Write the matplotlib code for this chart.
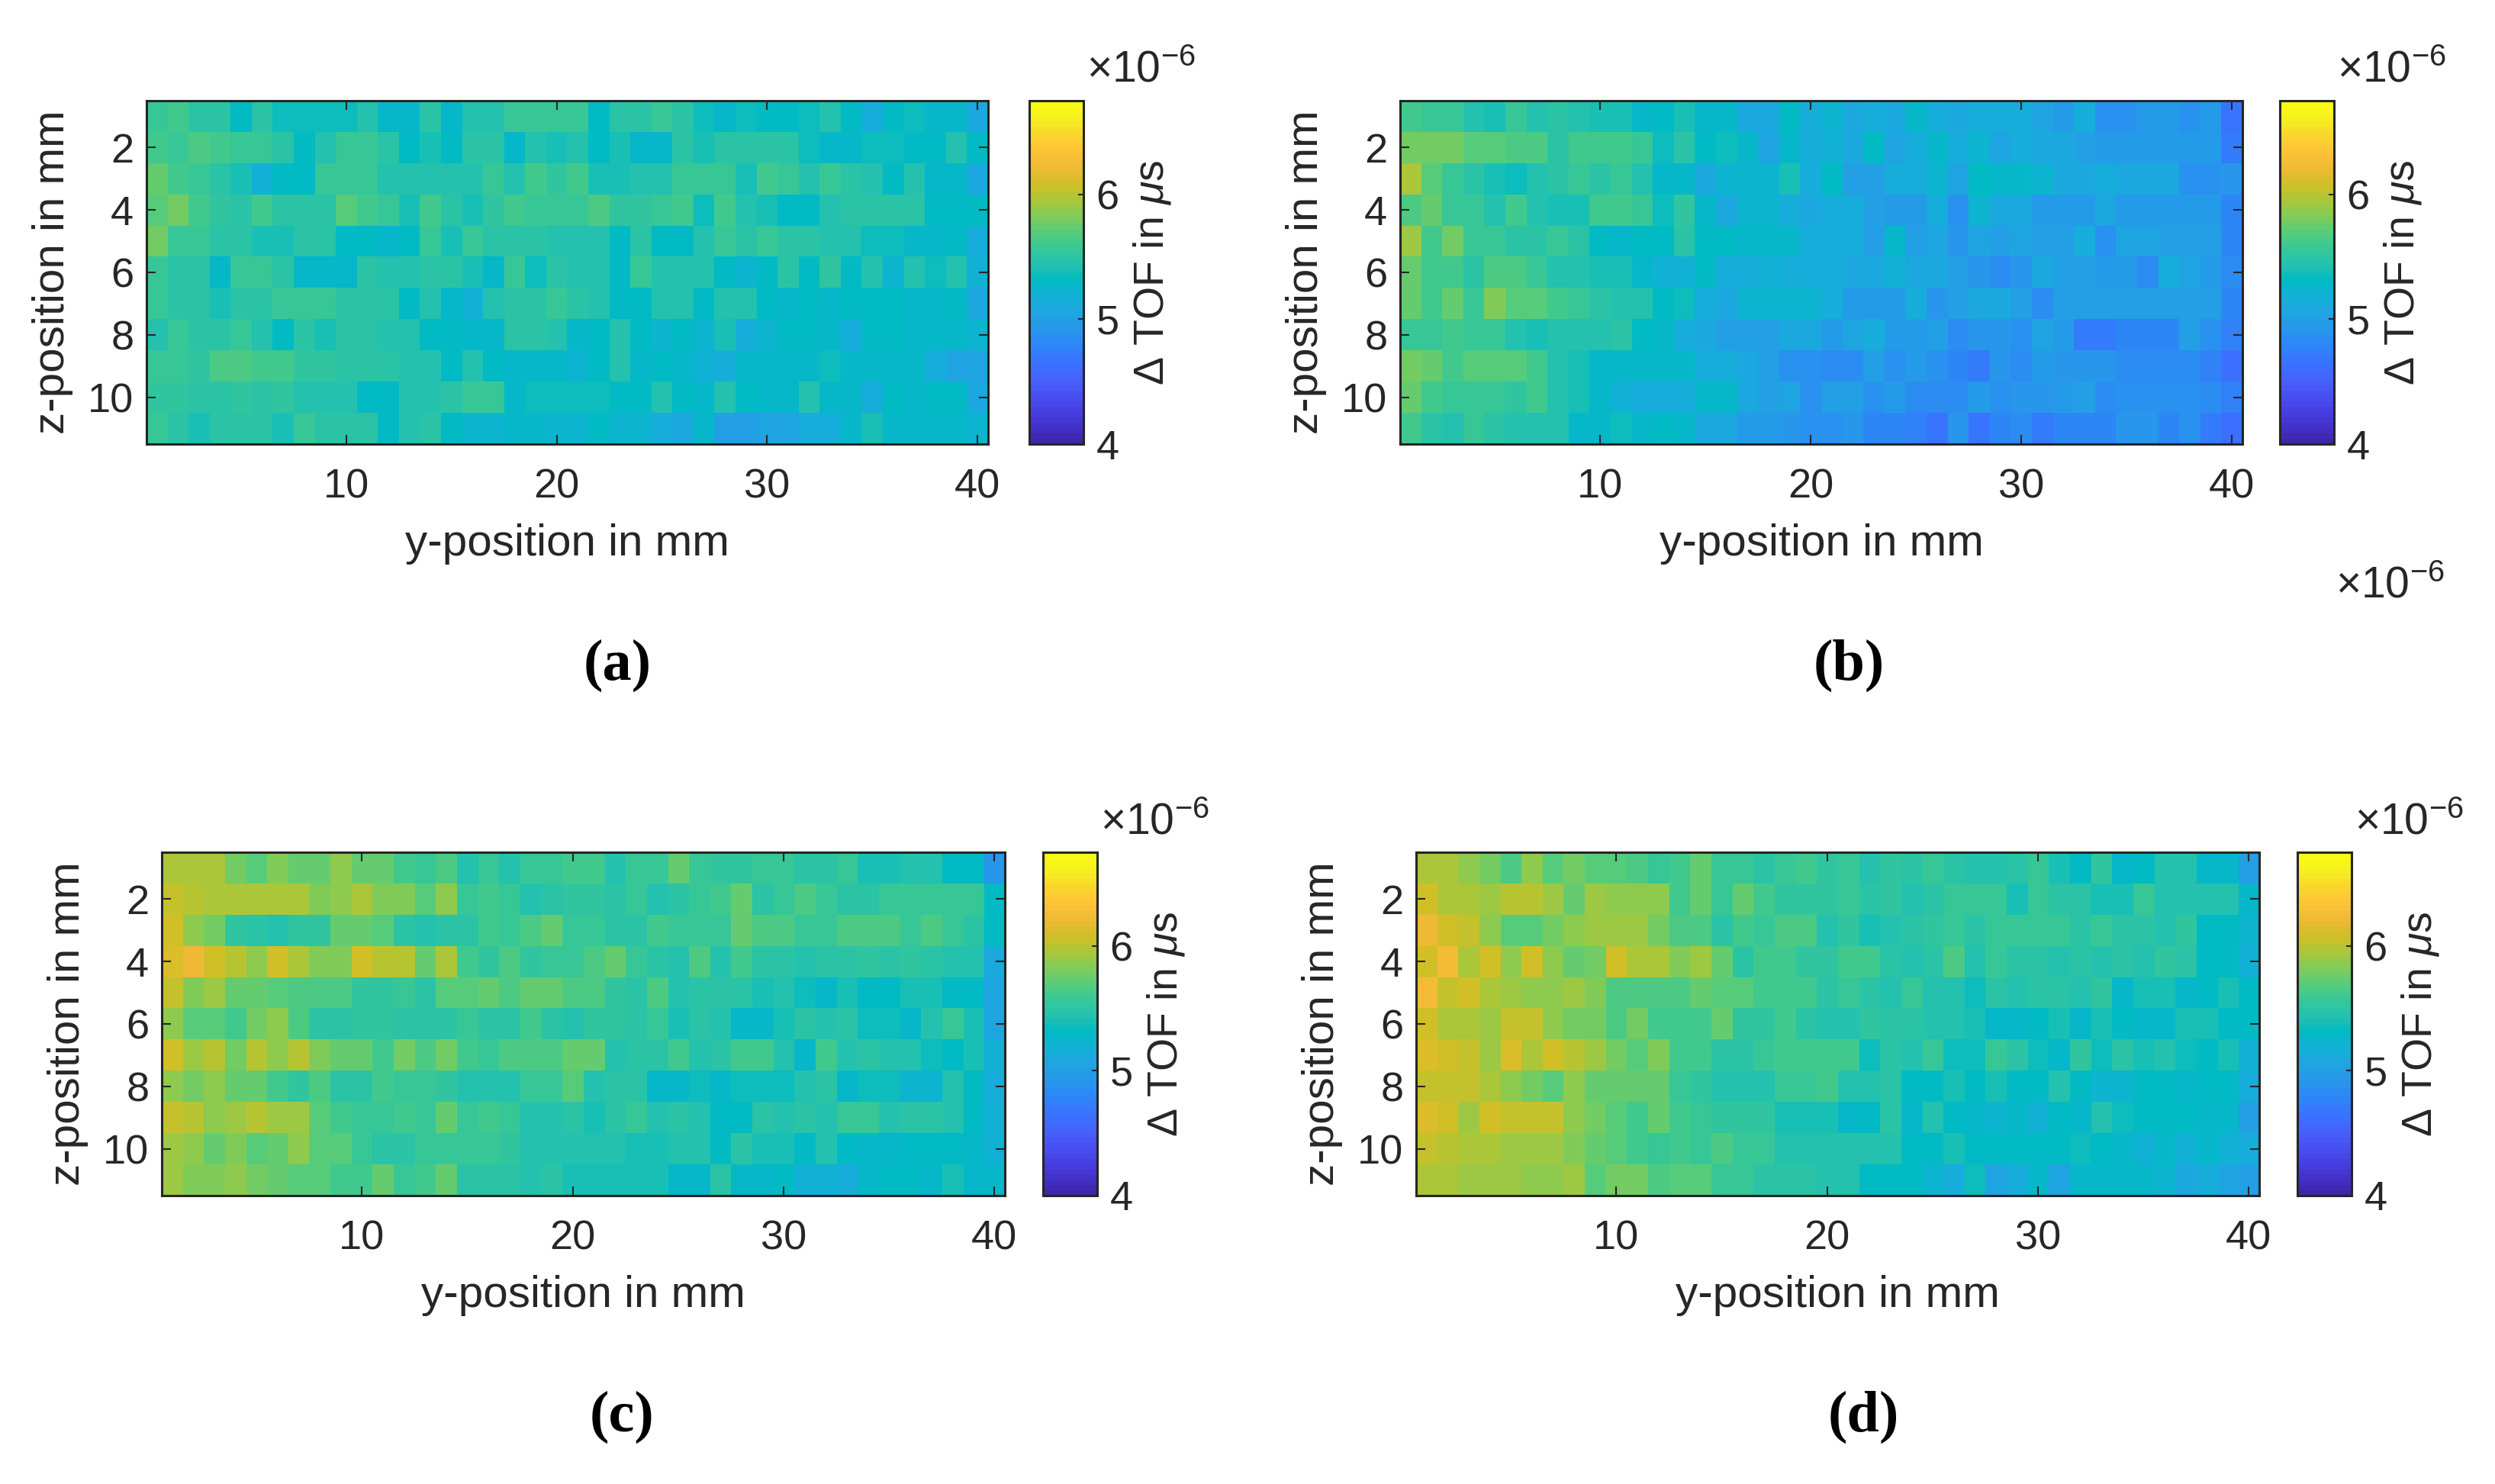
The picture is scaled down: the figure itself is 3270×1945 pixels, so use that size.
import numpy as np
import matplotlib
matplotlib.use('Agg')
import matplotlib.pyplot as plt
from matplotlib.colors import LinearSegmentedColormap

plt.rcParams['font.family'] = ['Liberation Sans', 'DejaVu Sans']
plt.rcParams['mathtext.fontset'] = 'custom'
plt.rcParams['mathtext.rm'] = 'Liberation Sans'
plt.rcParams['mathtext.it'] = 'Liberation Sans:italic'
plt.rcParams['mathtext.bf'] = 'Liberation Sans:bold'

# parula, every few entries of the 64 colour table
parula = [
    (0.2422, 0.1504, 0.6603), (0.2647, 0.1978, 0.7952), (0.2783, 0.2559, 0.8991),
    (0.2810, 0.3228, 0.9579), (0.2699, 0.3892, 0.9906), (0.2206, 0.4603, 0.9973),
    (0.1786, 0.5289, 0.9682), (0.1540, 0.5902, 0.9218), (0.1248, 0.6459, 0.8883),
    (0.0689, 0.6948, 0.8394), (0.0067, 0.7312, 0.7660), (0.1408, 0.7584, 0.6842),
    (0.2161, 0.7843, 0.5923), (0.3406, 0.8008, 0.4789), (0.5044, 0.7993, 0.3480),
    (0.6720, 0.7793, 0.2227), (0.8203, 0.7498, 0.1535), (0.9393, 0.7288, 0.2100),
    (0.9970, 0.7659, 0.2199), (0.9786, 0.8394, 0.1728), (0.9628, 0.9373, 0.1265),
    (0.9769, 0.9839, 0.0805),
]

# delta TOF in 1e-6 us, 11 rows (z) by 40 columns (y)
panel_a = [
    [5.55,5.60,5.50,5.50,5.30,5.50,5.35,5.35,5.35,5.35,
     5.42,5.25,5.25,5.50,5.27,5.42,5.42,5.55,5.55,5.55,
     5.55,5.32,5.47,5.47,5.58,5.50,5.35,5.28,5.35,5.33,
     5.30,5.35,5.42,5.30,5.15,5.30,5.35,5.25,5.25,5.10],
    [5.62,5.55,5.65,5.60,5.55,5.55,5.50,5.30,5.45,5.55,
     5.55,5.50,5.32,5.40,5.30,5.48,5.48,5.28,5.45,5.38,
     5.45,5.30,5.40,5.25,5.25,5.50,5.40,5.50,5.50,5.47,
     5.47,5.35,5.28,5.28,5.35,5.35,5.32,5.30,5.42,5.30],
    [5.72,5.62,5.58,5.48,5.40,5.18,5.32,5.32,5.55,5.55,
     5.55,5.42,5.42,5.42,5.42,5.45,5.55,5.43,5.62,5.52,
     5.60,5.40,5.40,5.45,5.45,5.55,5.55,5.55,5.40,5.62,
     5.55,5.45,5.55,5.50,5.45,5.32,5.45,5.27,5.27,5.10],
    [5.70,5.80,5.62,5.52,5.48,5.62,5.48,5.48,5.48,5.68,
     5.63,5.58,5.40,5.62,5.47,5.38,5.52,5.60,5.55,5.55,
     5.55,5.67,5.52,5.52,5.58,5.62,5.35,5.60,5.45,5.38,
     5.30,5.30,5.42,5.50,5.48,5.48,5.48,5.30,5.30,5.30],
    [5.78,5.55,5.55,5.47,5.47,5.38,5.38,5.48,5.48,5.30,
     5.30,5.27,5.32,5.55,5.38,5.55,5.48,5.48,5.48,5.43,
     5.43,5.43,5.33,5.47,5.30,5.30,5.42,5.55,5.47,5.58,
     5.48,5.48,5.42,5.42,5.35,5.35,5.28,5.28,5.33,5.12],
    [5.55,5.47,5.47,5.28,5.55,5.55,5.47,5.28,5.28,5.28,
     5.47,5.42,5.42,5.48,5.48,5.40,5.27,5.55,5.35,5.47,
     5.42,5.42,5.30,5.58,5.42,5.42,5.42,5.30,5.22,5.33,
     5.50,5.30,5.52,5.30,5.45,5.22,5.45,5.35,5.45,5.18],
    [5.55,5.47,5.47,5.38,5.48,5.48,5.55,5.55,5.55,5.48,
     5.48,5.48,5.30,5.42,5.25,5.20,5.42,5.50,5.50,5.58,
     5.50,5.42,5.30,5.30,5.42,5.42,5.33,5.42,5.42,5.33,
     5.28,5.32,5.28,5.32,5.30,5.33,5.28,5.28,5.33,5.10],
    [5.45,5.55,5.48,5.48,5.55,5.45,5.30,5.48,5.38,5.48,
     5.48,5.42,5.42,5.32,5.32,5.28,5.28,5.50,5.50,5.43,
     5.28,5.33,5.42,5.30,5.22,5.33,5.22,5.38,5.12,5.23,
     5.30,5.30,5.25,5.12,5.30,5.30,5.25,5.28,5.28,5.22],
    [5.58,5.58,5.52,5.65,5.65,5.60,5.60,5.52,5.52,5.47,
     5.47,5.47,5.42,5.42,5.30,5.43,5.32,5.28,5.28,5.28,
     5.22,5.30,5.42,5.28,5.33,5.28,5.20,5.13,5.25,5.28,
     5.28,5.28,5.35,5.28,5.25,5.28,5.28,5.13,5.05,5.05],
    [5.52,5.52,5.48,5.48,5.53,5.48,5.53,5.45,5.45,5.45,
     5.32,5.32,5.42,5.42,5.50,5.55,5.55,5.28,5.35,5.35,
     5.35,5.35,5.33,5.33,5.42,5.33,5.28,5.42,5.33,5.27,
     5.27,5.42,5.25,5.25,5.15,5.30,5.28,5.33,5.33,5.10],
    [5.55,5.47,5.38,5.48,5.48,5.48,5.38,5.55,5.48,5.48,
     5.48,5.32,5.42,5.50,5.30,5.22,5.22,5.27,5.27,5.22,
     5.22,5.33,5.22,5.22,5.13,5.08,5.25,5.00,5.00,5.07,
     5.07,5.15,5.15,5.25,5.38,5.25,5.25,5.25,5.25,5.22],
]

panel_b = [
    [5.62,5.58,5.55,5.45,5.38,5.55,5.42,5.50,5.42,5.38,
     5.38,5.27,5.33,5.38,5.25,5.25,5.10,5.10,5.32,5.15,
     5.22,5.10,5.15,5.08,5.25,5.15,5.10,5.15,5.15,5.15,
     5.05,4.95,5.15,4.90,4.90,4.95,4.95,4.90,4.98,4.68],
    [5.80,5.78,5.78,5.70,5.70,5.65,5.65,5.50,5.62,5.62,
     5.62,5.58,5.35,5.47,5.30,5.35,5.28,5.07,5.27,5.15,
     5.20,5.08,5.30,5.05,5.15,5.25,5.15,5.22,5.05,5.13,
     5.08,5.08,5.00,4.95,4.98,4.98,4.98,4.98,4.98,4.70],
    [5.95,5.70,5.58,5.48,5.40,5.37,5.42,5.50,5.57,5.50,
     5.58,5.43,5.28,5.28,5.10,5.22,5.22,5.22,5.38,5.12,
     5.30,5.03,5.03,5.12,5.12,5.22,5.05,5.30,5.25,5.25,
     5.22,5.08,5.08,5.12,5.08,5.08,5.08,4.90,4.90,4.92],
    [5.65,5.72,5.55,5.58,5.43,5.62,5.42,5.38,5.38,5.62,
     5.62,5.55,5.35,5.52,5.27,5.10,5.22,5.22,5.12,5.08,
     5.13,5.13,5.00,4.98,4.98,5.15,4.88,5.22,5.10,5.10,
     4.98,4.98,4.98,5.08,4.97,4.97,4.97,4.97,4.97,4.78],
    [5.92,5.60,5.78,5.55,5.55,5.50,5.50,5.58,5.50,5.30,
     5.27,5.30,5.30,5.47,5.30,5.30,5.28,5.28,5.28,5.13,
     5.13,5.13,5.02,5.27,5.00,5.05,4.92,5.05,5.00,5.05,
     5.00,5.00,5.15,4.90,5.05,5.05,5.00,5.00,5.00,4.80],
    [5.72,5.60,5.60,5.48,5.67,5.67,5.55,5.45,5.45,5.40,
     5.40,5.28,5.20,5.20,5.30,5.13,5.13,5.20,5.12,5.12,
     5.12,5.10,5.10,5.20,5.10,5.10,5.03,4.92,4.82,4.92,
     5.10,5.02,5.02,4.95,4.97,4.83,5.13,5.05,4.95,4.82],
    [5.75,5.60,5.75,5.58,5.82,5.68,5.68,5.60,5.57,5.50,
     5.42,5.42,5.33,5.35,5.12,5.08,5.22,5.22,5.22,5.22,
     5.15,4.97,4.97,4.97,5.15,4.92,5.00,5.10,5.10,5.00,
     4.85,5.03,5.03,5.03,5.03,5.03,5.03,5.00,5.00,4.78],
    [5.58,5.58,5.60,5.55,5.55,5.45,5.38,5.45,5.42,5.42,
     5.47,5.30,5.25,5.15,5.08,5.03,5.03,5.03,5.08,5.08,
     4.97,5.05,5.13,4.95,4.95,5.02,4.85,4.92,4.92,4.88,
     5.05,4.95,4.72,4.72,4.80,4.80,4.80,5.00,4.90,4.75],
    [5.78,5.72,5.60,5.68,5.68,5.68,5.62,5.45,5.38,5.25,
     5.25,5.27,5.27,5.27,5.12,5.12,5.10,5.03,4.88,4.88,
     4.82,4.82,5.00,4.88,4.95,4.88,4.78,4.72,4.92,4.85,
     4.97,4.92,4.92,4.92,4.85,4.85,4.85,4.85,4.75,4.62],
    [5.72,5.60,5.55,5.55,5.55,5.52,5.60,5.45,5.40,5.28,
     5.20,5.15,5.15,5.15,5.27,5.27,5.08,5.00,5.05,4.90,
     5.00,5.00,4.88,4.98,4.85,4.85,4.85,4.95,4.88,4.92,
     4.92,4.97,5.00,4.82,4.90,4.90,4.90,4.90,4.82,4.75],
    [5.60,5.50,5.42,5.58,5.47,5.42,5.42,5.42,5.28,5.28,
     5.37,5.28,5.33,5.27,5.10,5.10,4.97,4.97,4.92,4.88,
     4.88,4.92,4.78,4.78,4.75,4.68,4.92,4.65,4.78,4.82,
     4.72,4.80,4.80,4.80,4.92,4.92,4.80,4.90,4.72,4.62],
]

panel_c = [
    [5.95,5.95,5.95,5.80,5.68,5.82,5.75,5.75,5.85,5.75,
     5.75,5.63,5.58,5.65,5.45,5.58,5.42,5.58,5.58,5.63,
     5.63,5.45,5.58,5.58,5.72,5.58,5.52,5.52,5.58,5.58,
     5.47,5.47,5.58,5.38,5.38,5.45,5.45,5.30,5.30,4.92],
    [6.05,6.00,5.95,5.95,5.95,5.95,5.95,5.82,5.87,5.95,
     5.83,5.83,5.68,5.85,5.55,5.60,5.57,5.43,5.47,5.53,
     5.53,5.47,5.58,5.43,5.50,5.57,5.62,5.72,5.50,5.55,
     5.65,5.55,5.50,5.47,5.55,5.55,5.55,5.55,5.55,5.33],
    [6.10,5.85,5.80,5.52,5.47,5.45,5.52,5.52,5.72,5.72,
     5.68,5.48,5.45,5.50,5.50,5.62,5.57,5.65,5.72,5.55,
     5.55,5.47,5.47,5.62,5.57,5.57,5.57,5.72,5.65,5.65,
     5.58,5.58,5.65,5.65,5.65,5.58,5.65,5.55,5.47,5.32],
    [6.12,6.20,6.08,5.98,5.85,6.08,5.95,5.82,5.82,6.08,
     6.00,6.00,5.72,5.95,5.62,5.53,5.65,5.53,5.55,5.55,
     5.65,5.72,5.58,5.47,5.42,5.67,5.42,5.60,5.47,5.47,
     5.43,5.47,5.47,5.52,5.47,5.53,5.47,5.45,5.42,5.10],
    [6.05,5.82,5.90,5.72,5.72,5.70,5.65,5.65,5.65,5.52,
     5.52,5.57,5.50,5.70,5.70,5.75,5.65,5.72,5.72,5.65,
     5.65,5.53,5.48,5.65,5.43,5.47,5.47,5.47,5.38,5.42,
     5.35,5.28,5.38,5.30,5.30,5.38,5.38,5.32,5.32,5.05],
    [5.88,5.68,5.68,5.62,5.77,5.88,5.65,5.50,5.47,5.52,
     5.52,5.47,5.47,5.47,5.58,5.48,5.48,5.62,5.50,5.45,
     5.52,5.52,5.47,5.58,5.38,5.47,5.42,5.25,5.25,5.38,
     5.50,5.43,5.50,5.35,5.35,5.27,5.45,5.57,5.38,5.05],
    [6.08,5.93,6.00,5.80,6.00,5.88,5.98,5.82,5.72,5.72,
     5.62,5.80,5.65,5.78,5.60,5.55,5.65,5.65,5.65,5.72,
     5.72,5.43,5.50,5.50,5.60,5.43,5.50,5.60,5.60,5.42,
     5.28,5.60,5.42,5.47,5.42,5.42,5.35,5.30,5.38,5.20],
    [5.88,5.80,5.88,5.72,5.72,5.60,5.52,5.67,5.50,5.50,
     5.62,5.57,5.57,5.52,5.45,5.45,5.42,5.58,5.55,5.70,
     5.43,5.48,5.48,5.25,5.25,5.37,5.27,5.35,5.35,5.35,
     5.42,5.47,5.25,5.37,5.37,5.22,5.22,5.42,5.32,5.12],
    [6.05,5.98,5.85,5.92,6.00,5.93,5.93,5.70,5.60,5.57,
     5.57,5.62,5.55,5.72,5.55,5.62,5.55,5.45,5.42,5.47,
     5.38,5.48,5.55,5.42,5.47,5.43,5.30,5.30,5.50,5.42,
     5.48,5.42,5.55,5.55,5.42,5.50,5.50,5.45,5.32,5.17],
    [5.92,5.87,5.75,5.83,5.68,5.75,5.85,5.68,5.68,5.55,
     5.50,5.50,5.55,5.55,5.55,5.58,5.53,5.43,5.43,5.43,
     5.43,5.43,5.40,5.40,5.43,5.43,5.32,5.47,5.40,5.40,
     5.32,5.42,5.33,5.27,5.27,5.30,5.30,5.30,5.28,5.18],
    [5.92,5.82,5.82,5.88,5.80,5.75,5.70,5.70,5.60,5.60,
     5.72,5.55,5.62,5.72,5.47,5.47,5.47,5.45,5.50,5.38,
     5.38,5.38,5.38,5.38,5.27,5.27,5.47,5.25,5.25,5.30,
     5.17,5.17,5.15,5.28,5.33,5.33,5.27,5.40,5.25,5.25],
]

panel_d = [
    [5.97,5.97,5.85,5.78,5.65,5.88,5.68,5.78,5.70,5.70,
     5.65,5.55,5.63,5.75,5.55,5.55,5.50,5.55,5.63,5.52,
     5.58,5.43,5.53,5.48,5.57,5.50,5.45,5.45,5.50,5.55,
     5.38,5.30,5.52,5.25,5.32,5.42,5.42,5.28,5.28,5.03],
    [6.07,5.97,5.97,5.90,6.00,6.00,5.92,5.75,5.92,5.87,
     5.87,5.87,5.63,5.72,5.55,5.72,5.63,5.52,5.52,5.52,
     5.55,5.47,5.53,5.42,5.47,5.55,5.55,5.55,5.40,5.55,
     5.48,5.48,5.40,5.40,5.57,5.45,5.45,5.45,5.45,5.25],
    [6.22,6.07,6.03,5.85,5.70,5.70,5.80,5.87,5.93,5.93,
     5.93,5.80,5.67,5.67,5.48,5.62,5.55,5.65,5.65,5.45,
     5.52,5.38,5.42,5.48,5.52,5.57,5.48,5.58,5.58,5.58,
     5.58,5.48,5.55,5.48,5.48,5.43,5.53,5.30,5.30,5.23],
    [6.10,6.27,5.97,6.07,5.88,6.07,5.85,5.72,5.80,6.07,
     5.95,5.95,5.83,5.90,5.72,5.50,5.63,5.63,5.53,5.53,
     5.63,5.63,5.48,5.45,5.47,5.67,5.45,5.55,5.47,5.47,
     5.42,5.48,5.45,5.50,5.45,5.53,5.47,5.30,5.30,5.18],
    [6.27,6.02,6.10,5.97,5.90,5.85,5.85,5.93,5.82,5.67,
     5.67,5.67,5.67,5.75,5.70,5.70,5.63,5.63,5.63,5.48,
     5.58,5.47,5.43,5.55,5.43,5.43,5.37,5.48,5.43,5.50,
     5.50,5.43,5.52,5.28,5.38,5.38,5.27,5.32,5.38,5.30],
    [6.10,5.97,5.97,5.90,6.05,6.05,5.85,5.77,5.77,5.67,
     5.80,5.63,5.62,5.62,5.72,5.53,5.53,5.62,5.50,5.45,
     5.45,5.52,5.47,5.47,5.43,5.43,5.38,5.27,5.27,5.30,
     5.40,5.28,5.38,5.30,5.27,5.27,5.38,5.38,5.32,5.30],
    [6.12,6.08,6.02,5.93,6.12,5.97,6.07,5.98,5.90,5.78,
     5.70,5.82,5.62,5.62,5.50,5.47,5.55,5.60,5.60,5.60,
     5.60,5.37,5.48,5.43,5.57,5.37,5.37,5.58,5.50,5.37,
     5.27,5.52,5.37,5.47,5.40,5.45,5.37,5.30,5.38,5.20],
    [6.03,6.03,6.02,5.95,5.88,5.78,5.70,5.87,5.72,5.72,
     5.72,5.72,5.58,5.52,5.45,5.45,5.42,5.55,5.55,5.60,
     5.45,5.45,5.50,5.30,5.30,5.38,5.30,5.40,5.32,5.32,
     5.42,5.32,5.23,5.23,5.32,5.30,5.25,5.32,5.32,5.12],
    [6.12,6.08,5.93,6.08,6.03,6.03,6.03,5.85,5.78,5.68,
     5.62,5.72,5.63,5.57,5.52,5.52,5.52,5.38,5.38,5.38,
     5.25,5.33,5.47,5.28,5.45,5.33,5.28,5.22,5.28,5.20,
     5.30,5.28,5.42,5.35,5.33,5.33,5.33,5.25,5.25,5.03],
    [6.05,6.00,5.95,5.95,5.92,5.92,5.92,5.83,5.75,5.68,
     5.60,5.55,5.62,5.55,5.65,5.57,5.57,5.45,5.45,5.45,
     5.42,5.42,5.42,5.33,5.33,5.40,5.33,5.33,5.30,5.30,
     5.30,5.37,5.30,5.25,5.18,5.25,5.18,5.25,5.20,5.15],
    [5.95,5.95,5.90,5.90,5.90,5.85,5.85,5.92,5.68,5.78,
     5.78,5.65,5.70,5.70,5.55,5.55,5.47,5.47,5.47,5.42,
     5.42,5.33,5.33,5.33,5.22,5.12,5.35,5.05,5.12,5.25,
     5.05,5.25,5.25,5.25,5.25,5.22,5.08,5.13,5.05,5.00],
]

panels = [panel_a, panel_b, panel_c, panel_d]
panel_names = ['(a)', '(b)', '(c)', '(d)']
# pixel boxes in the 3270x1945 picture: axes left, right, top, bottom, colorbar left, right, caption x
boxes = [
    (192, 1295, 132, 582, 1349, 1420, 809),
    (1835, 2939, 132, 582, 2988, 3059, 2423),
    (212, 1317, 1117, 1567, 1367, 1438, 815),
    (1856, 2961, 1117, 1567, 3011, 3082, 2442),
]
xticks = [10, 20, 30, 40]
yticks = [2, 4, 6, 8, 10]
cticks = [4, 5, 6]
clim = (4, 6.75)

W, H = 3270, 1945
dark = '#262626'
fs = 39

cmap = LinearSegmentedColormap.from_list('parula', parula, N=64)
fig = plt.figure(figsize=(W / 100, H / 100), dpi=100, facecolor='white')


def make_axes(l, r, t, b):
    return fig.add_axes([l / W, 1 - b / H, (r - l) / W, (b - t) / H])


for data, name, box in zip(panels, panel_names, boxes):
    l, r, t, b, cl, cr, cap_x = box
    ax = make_axes(l, r, t, b)
    im = ax.imshow(np.array(data), cmap=cmap, vmin=clim[0], vmax=clim[1], aspect='auto',
                   interpolation='nearest', extent=(0.5, 40.5, 11.5, 0.5))
    ax.set_xticks(xticks)
    ax.set_yticks(yticks)
    ax.tick_params(axis='x', direction='in', top=True, bottom=True, length=8.5, width=1.5,
                   color=dark, labelcolor=dark, labelsize=fs, pad=23)
    ax.tick_params(axis='y', direction='in', left=True, right=True, length=8.5, width=1.5,
                   color=dark, labelcolor=dark, labelsize=fs, pad=12)
    ax.set_xlabel('y-position in mm', fontsize=42, color=dark, labelpad=16)
    ax.set_ylabel('z-position in mm', fontsize=42, color=dark, labelpad=14)
    for s in ax.spines.values():
        s.set_linewidth(2.2)
        s.set_color(dark)

    cax = make_axes(cl, cr, t, b)
    cbar = fig.colorbar(im, cax=cax)
    cbar.set_ticks(cticks)
    cax.tick_params(axis='y', direction='in', right=True, length=5, width=1.5, color=dark,
                    labelcolor=dark, labelsize=fs, pad=12)
    cbar.outline.set_linewidth(2.2)
    cbar.outline.set_edgecolor(dark)
    cax.set_ylabel(r'$\Delta$ TOF in $\mu$s', fontsize=40, color=dark, labelpad=12)

    fig.text((cl + 75) / W, 1 - (t - 24) / H, r'$\times10^{-6}$', fontsize=41, color=dark,
             va='baseline', ha='left')
    fig.text(cap_x / W, 1 - (b + 290) / H, name, fontsize=55, color='black',
             family='Liberation Serif', fontweight='bold', ha='center', va='center')

# the stray multiplier under panel (b)
fig.text(3061 / W, 1 - 783 / H, r'$\times10^{-6}$', fontsize=41, color=dark, va='baseline', ha='left')

fig.savefig('out.png', dpi=100)
